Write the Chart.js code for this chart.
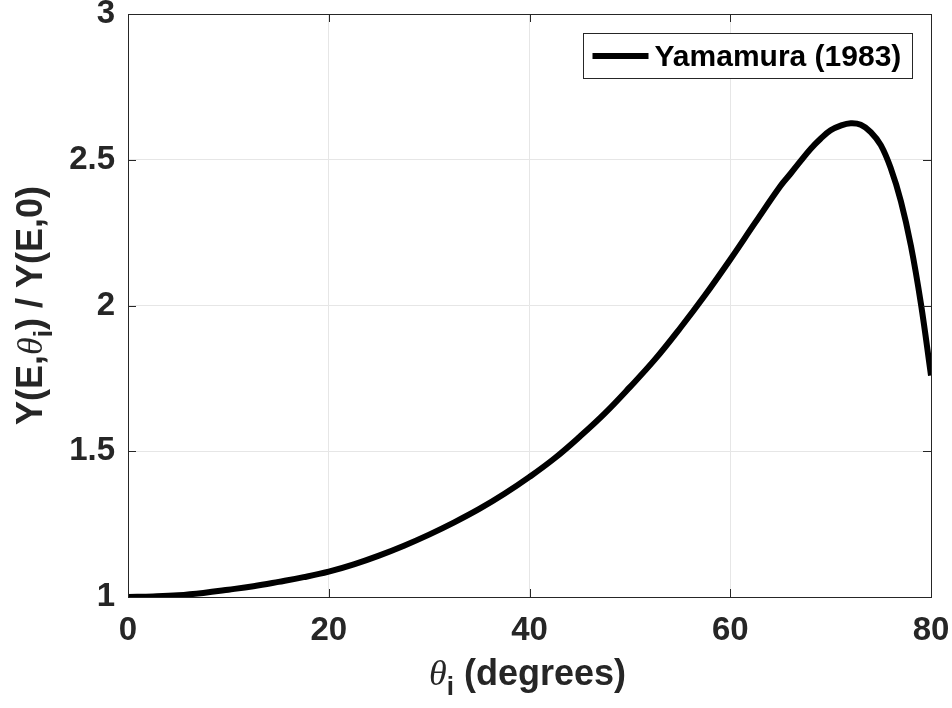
<!DOCTYPE html>
<html lang="en">
<head>
    <meta charset="UTF-8">
    <title>Yamamura (1983) angular yield ratio</title>
    <script src="https://cdn.jsdelivr.net/npm/chart.js"></script>
    <style>
        body { margin: 0; background: #fff; }
        canvas { display: block; }
    </style>
</head>
<body>
    <canvas id="yieldChart" width="952" height="708"></canvas>

    <script>
        // Incidence angle (degrees) and yield ratio
        const angles = [0, 2.5, 5, 7.5, 10, 12.5, 15, 17.5, 20, 22.5, 25, 27.5, 30, 32.5, 35, 37.5, 40, 42.5, 45, 47.5, 50, 52.5, 55, 57.5, 60, 62.5, 65, 66, 67, 68, 69, 70, 71, 72, 73, 74, 75, 76, 77, 78, 79, 80];
        const yieldRatio = [1.000, 1.002, 1.006, 1.014, 1.025, 1.037, 1.052, 1.068, 1.087, 1.112, 1.142, 1.176, 1.214, 1.256, 1.302, 1.354, 1.412, 1.476, 1.55, 1.63, 1.72, 1.815, 1.922, 2.036, 2.158, 2.285, 2.41, 2.452, 2.495, 2.537, 2.572, 2.601, 2.617, 2.625, 2.62, 2.595, 2.55, 2.47, 2.358, 2.205, 2.005, 1.76];

        const xTicks = [0, 20, 40, 60, 80];
        const yTicks = [1, 1.5, 2, 2.5, 3];
        const seriesLabel = 'Yamamura (1983)';

        const axisColor = '#262626';
        const gridColor = '#e6e6e6';
        const sans = '"Liberation Sans", Arial, Helvetica, sans-serif';
        const serif = '"Liberation Serif", "DejaVu Serif", serif';

        // box, inward ticks, legend and axis titles (MATLAB look)
        const matlabFrame = {
            id: 'matlabFrame',
            afterDraw(chart) {
                const ctx = chart.ctx;
                const a = chart.chartArea;
                const xs = chart.scales.x, ys = chart.scales.y;
                ctx.save();
                ctx.strokeStyle = axisColor;
                ctx.lineWidth = 1;
                ctx.strokeRect(a.left + 0.5, a.top + 0.5, a.right - a.left, a.bottom - a.top);

                const tl = 8;
                ctx.beginPath();
                xTicks.forEach(v => {
                    const px = Math.round(xs.getPixelForValue(v)) + 0.5;
                    ctx.moveTo(px, a.bottom); ctx.lineTo(px, a.bottom - tl);
                    ctx.moveTo(px, a.top); ctx.lineTo(px, a.top + tl);
                });
                yTicks.forEach(v => {
                    const py = Math.round(ys.getPixelForValue(v)) + 0.5;
                    ctx.moveTo(a.left, py); ctx.lineTo(a.left + tl, py);
                    ctx.moveTo(a.right, py); ctx.lineTo(a.right - tl, py);
                });
                ctx.stroke();

                // legend
                const lx = a.right - 347.5, ly = a.top + 19.5;
                ctx.fillStyle = '#fff';
                ctx.fillRect(lx, ly, 329, 45);
                ctx.strokeRect(lx, ly, 329, 45);
                ctx.strokeStyle = '#000';
                ctx.lineWidth = 6;
                ctx.beginPath();
                ctx.moveTo(lx + 9, ly + 22.5); ctx.lineTo(lx + 65, ly + 22.5);
                ctx.stroke();
                ctx.fillStyle = '#000';
                ctx.font = 'bold 30px ' + sans;
                ctx.textBaseline = 'middle';
                ctx.textAlign = 'left';
                ctx.fillText(chart.data.datasets[0].label, lx + 71, ly + 24);

                // x title: theta_i (degrees)
                ctx.fillStyle = axisColor;
                ctx.textBaseline = 'alphabetic';
                const fTh = 'italic 36px ' + serif, fSub = 'bold 26px ' + sans, fMain = 'bold 36px ' + sans;
                ctx.font = fTh; const wTh = ctx.measureText('\u03B8').width;
                ctx.font = fSub; const wSub = ctx.measureText('i').width;
                ctx.font = fMain; const wRest = ctx.measureText(' (degrees)').width;
                let x0 = (a.left + a.right) / 2 - 2 - (wTh + wSub + wRest) / 2;
                const by = 685;
                ctx.font = fTh; ctx.fillText('\u03B8', x0, by); x0 += wTh;
                ctx.font = fSub; ctx.fillText('i', x0, by + 10); x0 += wSub;
                ctx.font = fMain; ctx.fillText(' (degrees)', x0, by);

                // y title: Y(E,theta_i) / Y(E,0)
                ctx.translate(42, (a.top + a.bottom) / 2);
                ctx.rotate(-Math.PI / 2);
                ctx.font = fMain; const w1 = ctx.measureText('Y(E,').width;
                const w3 = ctx.measureText(') / Y(E,0)').width;
                let t = -(w1 + wTh + wSub + w3) / 2;
                ctx.fillText('Y(E,', t, 0); t += w1;
                ctx.font = fTh; ctx.fillText('\u03B8', t, 0); t += wTh;
                ctx.font = fSub; ctx.fillText('i', t, 10); t += wSub;
                ctx.font = fMain; ctx.fillText(') / Y(E,0)', t, 0);
                ctx.restore();
            }
        };

        const ctx = document.getElementById('yieldChart').getContext('2d');
        const yieldChart = new Chart(ctx, {
            type: 'line',
            data: {
                datasets: [{
                    label: seriesLabel,
                    data: angles.map((a, i) => ({ x: a, y: yieldRatio[i] })),
                    borderColor: '#000',
                    borderWidth: 6,
                    borderCapStyle: 'butt',
                    borderJoinStyle: 'round',
                    pointRadius: 0,
                    fill: false,
                    tension: 0.4
                }]
            },
            options: {
                responsive: false,
                animation: false,
                layout: { padding: { top: 14, right: 21, left: 0, bottom: 0 } },
                plugins: {
                    legend: { display: false },
                    tooltip: { enabled: false }
                },
                scales: {
                    x: {
                        type: 'linear',
                        min: 0,
                        max: 80,
                        afterBuildTicks: s => { s.ticks = xTicks.map(v => ({ value: v })); },
                        afterFit: s => { s.height = 111; s.paddingLeft = 0; s.paddingRight = 0; },
                        ticks: {
                            color: axisColor,
                            font: { family: sans, size: 33, weight: 'bold' },
                            padding: 14,
                            maxRotation: 0,
                            callback: v => String(v)
                        },
                        grid: { color: gridColor, drawTicks: false },
                        border: { display: false }
                    },
                    y: {
                        type: 'linear',
                        min: 1,
                        max: 3,
                        afterBuildTicks: s => { s.ticks = yTicks.map(v => ({ value: v })); },
                        afterFit: s => { s.width = 128; s.paddingTop = 0; s.paddingBottom = 0; },
                        ticks: {
                            color: axisColor,
                            font: { family: sans, size: 33, weight: 'bold' },
                            padding: 13,
                            callback: v => String(v)
                        },
                        grid: { color: gridColor, drawTicks: false },
                        border: { display: false }
                    }
                }
            },
            plugins: [matlabFrame]
        });
    </script>
</body>
</html>
